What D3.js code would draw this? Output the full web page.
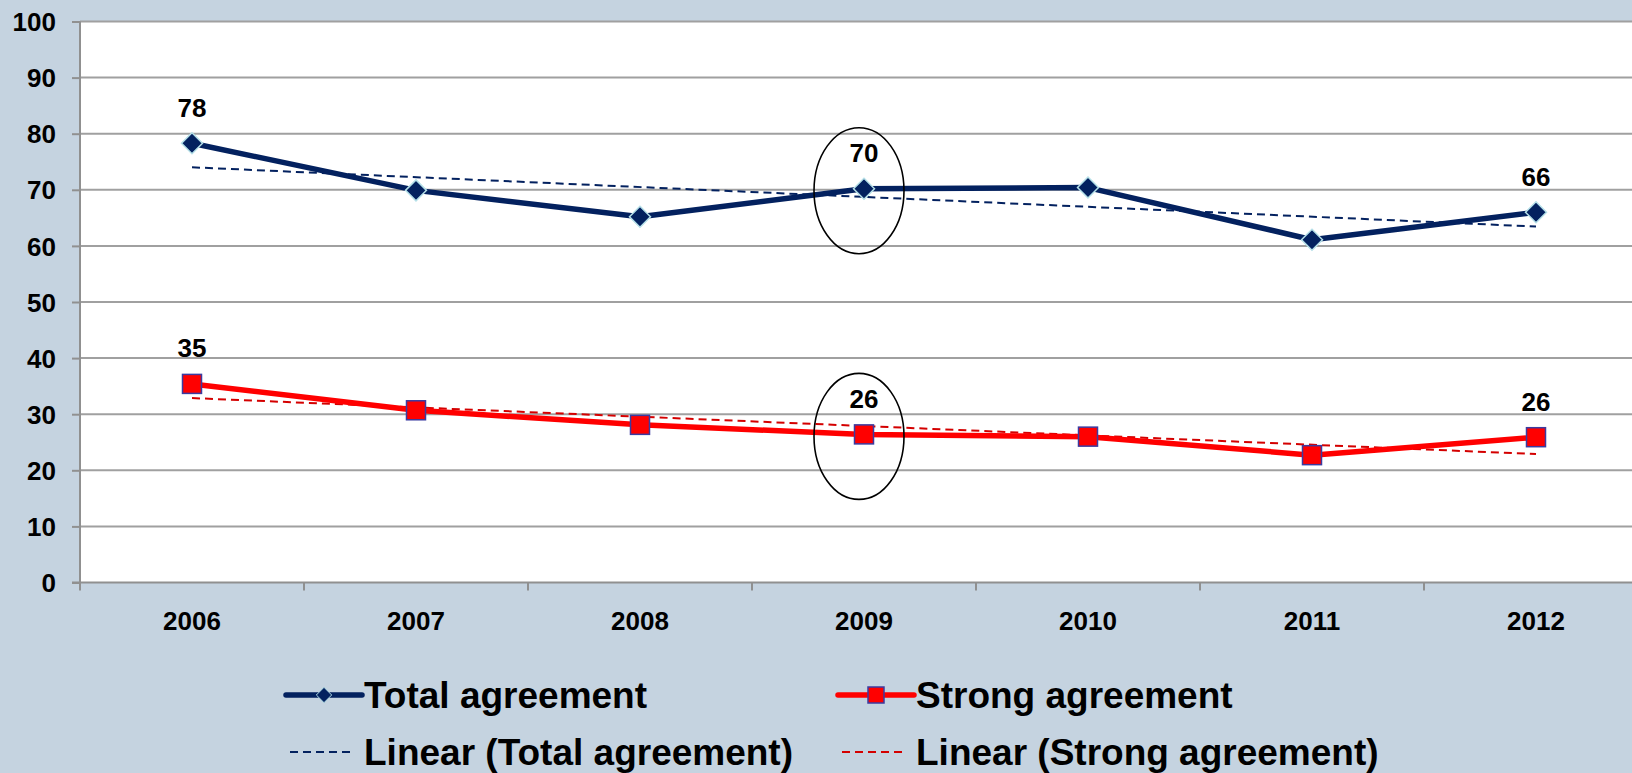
<!DOCTYPE html>
<html>
<head>
<meta charset="utf-8">
<script src="https://cdn.jsdelivr.net/npm/d3@7"></script>
<style>
  html, body { margin: 0; padding: 0; background: #c5d3e0; }
  svg { display: block; font-family: Arial, "Liberation Sans", sans-serif; font-weight: bold; }
</style>
</head>
<body>
<svg id="chart" width="1632" height="773"></svg>
<script>
const years = ["2006", "2007", "2008", "2009", "2010", "2011", "2012"];
const totalAgreement = [78.3, 69.9, 65.2, 70.2, 70.4, 61.1, 66.0];
const strongAgreement = [35.4, 30.7, 28.1, 26.4, 26.0, 22.7, 25.9];
const labeledYears = ["2006", "2009", "2012"];
const circledYears = ["2009"];
const yTicks = [0, 10, 20, 30, 40, 50, 60, 70, 80, 90, 100];
const seriesNames = ["Total agreement", "Strong agreement"];
const trendNames = ["Linear (Total agreement)", "Linear (Strong agreement)"];

(function () {
const navy = "#03215f", red = "#ff0000";
const svg = d3.select("#chart");
const W = 1632, H = 773;
const pLeft = 80, pTop = 21.5, pBottom = 582.5, band = 224;

svg.append("rect").attr("width", W).attr("height", H).attr("fill", "#c5d3e0");

const x = d3.scaleBand().domain(years).range([pLeft, pLeft + band * years.length]).padding(0);
const xc = d => x(d) + x.bandwidth() / 2;
const y = d3.scaleLinear().domain([0, 100]).range([pBottom, pTop]);

// plot area
svg.append("rect").attr("x", pLeft).attr("y", pTop).attr("width", W - pLeft).attr("height", pBottom - pTop).attr("fill", "#ffffff");

// gridlines
svg.append("g").selectAll("line").data(yTicks.filter(t => t > 0)).join("line")
  .attr("x1", pLeft).attr("x2", W).attr("y1", d => y(d)).attr("y2", d => y(d))
  .attr("stroke", "#a0a0a0").attr("stroke-width", 2);

// y axis
const yAxis = d3.axisLeft(y).tickValues(yTicks).tickSize(8).tickPadding(16).tickFormat(d3.format("d"));
const gy = svg.append("g").attr("transform", `translate(${pLeft},0)`).call(yAxis);
gy.select(".domain").remove();
gy.selectAll(".tick line").attr("stroke", "#909090").attr("stroke-width", 2);
gy.selectAll(".tick text").attr("fill", "#000").style("font-size", "26px").style("font-weight", "bold")
  .style("font-family", "Arial, 'Liberation Sans', sans-serif").attr("dy", "0.35em");
svg.append("line").attr("x1", pLeft).attr("x2", pLeft).attr("y1", pTop).attr("y2", pBottom + 8)
  .attr("stroke", "#909090").attr("stroke-width", 2);

// x axis
const gx = svg.append("g").attr("transform", `translate(0,${pBottom})`)
  .call(d3.axisBottom(x).tickSize(0).tickPadding(29));
gx.select(".domain").remove();
gx.selectAll(".tick text").attr("fill", "#000").style("font-size", "26px").style("font-weight", "bold")
  .style("font-family", "Arial, 'Liberation Sans', sans-serif");
svg.append("line").attr("x1", pLeft - 8).attr("x2", W).attr("y1", pBottom).attr("y2", pBottom)
  .attr("stroke", "#909090").attr("stroke-width", 2);
svg.append("g").selectAll("line").data(years.slice(1)).join("line")
  .attr("x1", d => x(d)).attr("x2", d => x(d)).attr("y1", pBottom).attr("y2", pBottom + 8)
  .attr("stroke", "#909090").attr("stroke-width", 2);

// linear trend (least squares on the series)
function trend(vals) {
  const n = vals.length, xs = d3.range(n);
  const mx = d3.mean(xs), my = d3.mean(vals);
  const b = d3.sum(xs, (xi, i) => (xi - mx) * (vals[i] - my)) / d3.sum(xs, xi => (xi - mx) ** 2);
  const a = my - b * mx;
  return [[years[0], a], [years[n - 1], a + b * (n - 1)]];
}
const tline = d3.line().x(d => xc(d[0])).y(d => y(d[1]));
svg.append("path").attr("d", tline(trend(totalAgreement))).attr("fill", "none")
  .attr("stroke", navy).attr("stroke-width", 2).attr("stroke-dasharray", "8,5");
svg.append("path").attr("d", tline(trend(strongAgreement))).attr("fill", "none")
  .attr("stroke", "#d40000").attr("stroke-width", 2).attr("stroke-dasharray", "8,5");

// series lines
const line = d3.line().x((d, i) => xc(years[i])).y(d => y(d));
svg.append("path").attr("d", line(totalAgreement)).attr("fill", "none")
  .attr("stroke", navy).attr("stroke-width", 5.5).attr("stroke-linejoin", "round");
svg.append("path").attr("d", line(strongAgreement)).attr("fill", "none")
  .attr("stroke", red).attr("stroke-width", 5.5).attr("stroke-linejoin", "round");

// markers
const diamond = d3.symbol().type(d3.symbolDiamond2).size(280);
svg.append("g").selectAll("path").data(totalAgreement).join("path")
  .attr("d", diamond).attr("transform", (d, i) => `translate(${xc(years[i])},${y(d)})`)
  .attr("fill", navy).attr("stroke", "#b5e0e8").attr("stroke-width", 1.5);
svg.append("g").selectAll("rect").data(strongAgreement).join("rect")
  .attr("x", (d, i) => xc(years[i]) - 9.5).attr("y", d => y(d) - 9.5).attr("width", 19).attr("height", 19)
  .attr("fill", red).attr("stroke", "#3b3ba0").attr("stroke-width", 1.5);

// data labels
[totalAgreement, strongAgreement].forEach(vals => {
  svg.append("g").selectAll("text").data(years.map((yr, i) => [yr, vals[i]]).filter(d => labeledYears.includes(d[0])))
    .join("text").attr("x", d => xc(d[0])).attr("y", d => y(d[1]) - 26.5)
    .attr("text-anchor", "middle").style("font-size", "26px").attr("fill", "#000")
    .text(d => Math.round(d[1]));
});

// ellipses
[totalAgreement, strongAgreement].forEach(vals => {
  svg.append("g").selectAll("ellipse").data(circledYears).join("ellipse")
    .attr("cx", d => xc(d) - 5).attr("cy", d => y(vals[years.indexOf(d)]) + 2)
    .attr("rx", 45).attr("ry", 63).attr("fill", "none").attr("stroke", "#000").attr("stroke-width", 1.6);
});

// legend
const leg = svg.append("g").style("font-size", "37px");
const lx = [286, 838], row1 = 708, row2 = 765;
leg.append("line").attr("x1", lx[0]).attr("x2", lx[0] + 76).attr("y1", row1 - 13).attr("y2", row1 - 13)
  .attr("stroke", navy).attr("stroke-width", 5.5).attr("stroke-linecap", "round");
leg.append("path").attr("d", d3.symbol().type(d3.symbolDiamond2).size(150))
  .attr("transform", `translate(${lx[0] + 38},${row1 - 13})`).attr("fill", navy).attr("stroke", "#b5e0e8").attr("stroke-width", 1);
leg.append("text").attr("x", lx[0] + 78).attr("y", row1).text(seriesNames[0]);
leg.append("line").attr("x1", lx[1]).attr("x2", lx[1] + 76).attr("y1", row1 - 13).attr("y2", row1 - 13)
  .attr("stroke", red).attr("stroke-width", 5.5).attr("stroke-linecap", "round");
leg.append("rect").attr("x", lx[1] + 30).attr("y", row1 - 21).attr("width", 16).attr("height", 16)
  .attr("fill", red).attr("stroke", "#3b3ba0").attr("stroke-width", 1.5);
leg.append("text").attr("x", lx[1] + 78).attr("y", row1).text(seriesNames[1]);
leg.append("line").attr("x1", lx[0] + 4).attr("x2", lx[0] + 68).attr("y1", row2 - 13).attr("y2", row2 - 13)
  .attr("stroke", navy).attr("stroke-width", 2).attr("stroke-dasharray", "8,5");
leg.append("text").attr("x", lx[0] + 78).attr("y", row2).text(trendNames[0]);
leg.append("line").attr("x1", lx[1] + 4).attr("x2", lx[1] + 68).attr("y1", row2 - 13).attr("y2", row2 - 13)
  .attr("stroke", "#d40000").attr("stroke-width", 2).attr("stroke-dasharray", "8,5");
leg.append("text").attr("x", lx[1] + 78).attr("y", row2).text(trendNames[1]);
})();
</script>
</body>
</html>
